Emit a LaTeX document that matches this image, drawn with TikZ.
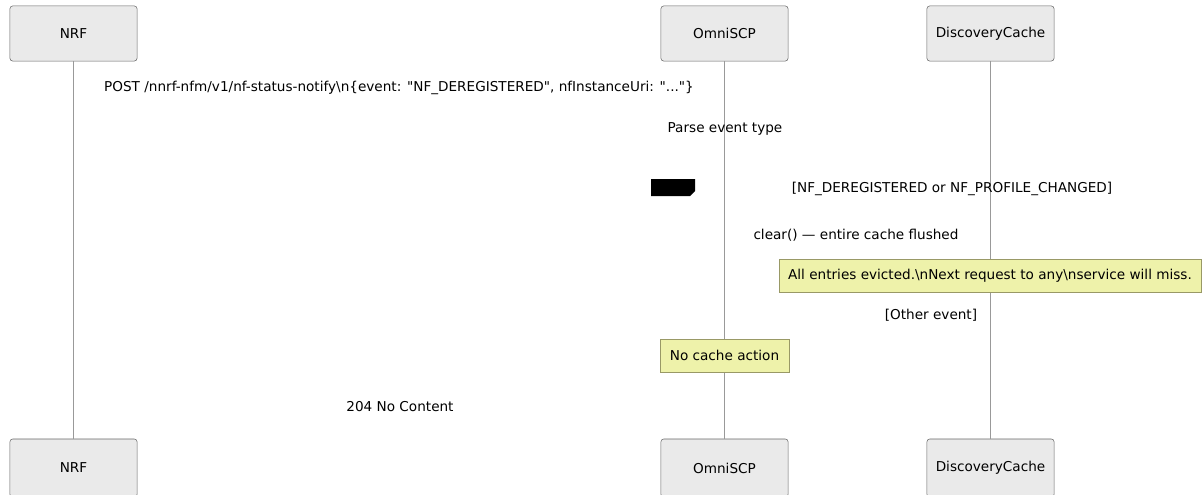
\documentclass[tikz,border=0pt]{standalone}
\usepackage{fontspec}
\setmainfont{DejaVu Sans}
\definecolor{boxfill}{HTML}{EAEAEA}
\definecolor{boxline}{HTML}{666666}
\definecolor{lifeline}{HTML}{999999}
\definecolor{notefill}{HTML}{EEF2AA}
\definecolor{noteline}{HTML}{999966}
\begin{document}
\begin{tikzpicture}[
    x = 0.75pt,
    y = -0.75pt,
    font=\fontsize{10.2pt}{12pt}\selectfont,
    actor/.style = {draw=boxline, fill=boxfill, rounded corners=2pt,
              minimum width=95.3pt, minimum height=41.3pt,
              inner sep=0pt},
    note/.style = {draw=noteline, fill=notefill, minimum height=24.8pt,
              inner sep=0pt},
    msg/.style = {inner sep=1pt},
    ]

\useasboundingbox (0,0) rectangle (1204,494);

% actors
\node[actor] (nrf_top) at (73.5,33.5){NRF};
\node[actor] (scp_top) at (724.5,33.5){OmniSCP};
\node[actor] (cache_top) at (990.5,33.5){DiscoveryCache};
\node[actor, minimum height=43.5pt] (nrf_bot) at (73.5,468){NRF};
\node[actor, minimum height=43.5pt] (scp_bot) at (724.5,468){OmniSCP};
\node[actor, minimum height=43.5pt] (cache_bot) at (990.5,468){DiscoveryCache};

% lifelines
\draw [lifeline, thin] (nrf_top) -- (nrf_bot);
\draw [lifeline, thin] (scp_top) -- (scp_bot);
\draw [lifeline, thin] (cache_top) -- (cache_bot);

% messages
\node[msg] (notify) at (399,88){POST /nnrf-nfm/v1/nf-status-notify\textbackslash n\{event: \textquotedbl NF\_DEREGISTERED\textquotedbl, nfInstanceUri: \textquotedbl...\textquotedbl\}};
\node[msg] (parse) at (725,129){Parse event type};
\fill [black] (651,179) -- (695,179) -- (695,191) -- (690,196) -- (651,196) -- cycle;
\node[msg] (cond_1) at (952,189){[NF\_DEREGISTERED or NF\_PROFILE\_CHANGED]};
\node[msg] (clear) at (856,235){clear() — entire cache flushed};
\node[msg] (cond_2) at (931,315){[Other event]};
\node[msg] (reply) at (400,407){204 No Content};

% notes
\node[note, minimum width=316.5pt] (note_evict) at (990,275.5){All entries evicted.\textbackslash nNext request to any\textbackslash nservice will miss.};
\node[note, minimum width=96.8pt] (note_none) at (724.5,355.5){No cache action};

\end{tikzpicture}
\end{document}
